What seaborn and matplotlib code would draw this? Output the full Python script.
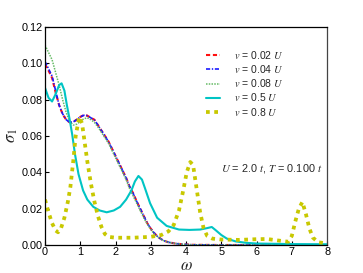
import numpy as np
import pandas as pd
import matplotlib
matplotlib.use("Agg")
import matplotlib.pyplot as plt
import seaborn as sns

# omega grids and sigma_1 values
w_002 = [0, 0.1, 0.2, 0.3, 0.4, 0.5, 0.6, 0.7, 0.8, 0.9, 1.0, 1.1, 1.2, 1.3, 1.4,
         1.5, 1.6, 1.7, 1.8, 1.9, 2.0, 2.1, 2.2, 2.3, 2.4, 2.5, 2.6, 2.7, 2.8, 2.9,
         3.0, 3.1, 3.2, 3.35, 3.5, 3.7, 3.9, 4.2, 5.0, 8.0]
s_002 = [0.0995, 0.096, 0.092, 0.084, 0.077, 0.072, 0.069, 0.0675, 0.0678, 0.069,
         0.0705, 0.0715, 0.0712, 0.070, 0.069, 0.066, 0.063, 0.060, 0.057, 0.053,
         0.049, 0.045, 0.041, 0.037, 0.032, 0.0285, 0.024, 0.020, 0.016, 0.012,
         0.009, 0.0065, 0.0045, 0.0025, 0.0015, 0.0008, 0.0004, 0.0001, 0.0, 0.0]

w_004 = [0, 0.1, 0.2, 0.3, 0.4, 0.5, 0.6, 0.7, 0.8, 0.9, 1.0, 1.1, 1.2, 1.3, 1.4,
         1.5, 1.6, 1.7, 1.8, 1.9, 2.0, 2.1, 2.2, 2.3, 2.4, 2.5, 2.6, 2.7, 2.8, 2.9,
         3.0, 3.1, 3.2, 3.35, 3.5, 3.7, 3.9, 4.2, 5.0, 8.0]
s_004 = [0.101, 0.097, 0.093, 0.085, 0.077, 0.0722, 0.069, 0.0675, 0.0677, 0.069,
         0.0705, 0.0714, 0.0712, 0.070, 0.0688, 0.066, 0.063, 0.060, 0.0568, 0.053,
         0.049, 0.045, 0.041, 0.0368, 0.032, 0.0283, 0.024, 0.020, 0.016, 0.012,
         0.009, 0.0065, 0.0045, 0.0025, 0.0015, 0.0008, 0.0004, 0.0001, 0.0, 0.0]

w_008 = [0, 0.1, 0.2, 0.3, 0.4, 0.5, 0.6, 0.7, 0.8, 0.9, 1.0, 1.1, 1.2, 1.3, 1.4,
         1.5, 1.6, 1.7, 1.8, 1.9, 2.0, 2.1, 2.2, 2.3, 2.4, 2.5, 2.6, 2.7, 2.8, 2.9,
         3.0, 3.1, 3.2, 3.35, 3.5, 3.7, 3.9, 4.2, 5.0, 8.0]
s_008 = [0.110, 0.106, 0.102, 0.095, 0.088, 0.080, 0.073, 0.068, 0.066, 0.0665,
         0.068, 0.0695, 0.070, 0.069, 0.0675, 0.065, 0.062, 0.059, 0.056, 0.052,
         0.048, 0.044, 0.040, 0.036, 0.031, 0.027, 0.023, 0.019, 0.015, 0.0115,
         0.0085, 0.006, 0.0043, 0.0025, 0.0015, 0.0008, 0.0004, 0.0001, 0.0, 0.0]

w_05 = [0, 0.1, 0.2, 0.3, 0.4, 0.47, 0.55, 0.62, 0.7, 0.77, 0.85, 0.95, 1.08, 1.2,
        1.37, 1.55, 1.75, 1.95, 2.13, 2.3, 2.45, 2.55, 2.65, 2.75, 2.84, 2.98, 3.18,
        3.45, 3.8, 4.1, 4.4, 4.6, 4.73, 4.85, 5.0, 5.16, 5.4, 5.7, 6.0, 7.0, 8.0]
s_05 = [0.0865, 0.081, 0.079, 0.083, 0.088, 0.089, 0.085, 0.077, 0.069, 0.061,
        0.050, 0.039, 0.030, 0.025, 0.021, 0.019, 0.018, 0.019, 0.021, 0.025,
        0.030, 0.035, 0.038, 0.036, 0.031, 0.023, 0.015, 0.0105, 0.0085, 0.0083,
        0.0085, 0.0093, 0.0099, 0.008, 0.0055, 0.0035, 0.002, 0.0012, 0.0008,
        0.0005, 0.0004]

w_08 = [0, 0.1, 0.2, 0.3, 0.37, 0.45, 0.55, 0.65, 0.72, 0.8, 0.87, 0.97, 1.05, 1.1,
        1.2, 1.3, 1.4, 1.5, 1.6, 1.7, 1.8, 2.0, 2.5, 3.0, 3.3, 3.5, 3.65, 3.8, 3.92,
        4.02, 4.12, 4.2, 4.3, 4.4, 4.5, 4.6, 4.75, 5.0, 5.5, 6.0, 6.3, 6.6, 6.9,
        7.0, 7.1, 7.2, 7.3, 7.4, 7.5, 7.6, 7.75, 8.0]
s_08 = [0.025, 0.018, 0.012, 0.008, 0.007, 0.009, 0.015, 0.024, 0.032, 0.046,
        0.060, 0.0705, 0.067, 0.060, 0.046, 0.034, 0.024, 0.016, 0.010, 0.006,
        0.0045, 0.004, 0.004, 0.0045, 0.0055, 0.0075, 0.011, 0.019, 0.030, 0.040,
        0.0457, 0.044, 0.031, 0.018, 0.009, 0.005, 0.0035, 0.003, 0.0028, 0.0032,
        0.0033, 0.0025, 0.0018, 0.005, 0.013, 0.020, 0.0237, 0.017, 0.009, 0.004,
        0.0015, 0.0008]

labels = [r"$v$ = 0.02 $U$", r"$v$ = 0.04 $U$", r"$v$ = 0.08 $U$",
          r"$v$ = 0.5 $U$", r"$v$ = 0.8 $U$"]

sns.set_style("ticks")
plt.rcParams["font.family"] = ["Liberation Sans", "DejaVu Sans"]
plt.rcParams["mathtext.fontset"] = "stix"

fig = plt.figure(figsize=(3.63, 2.73), dpi=100)
ax = fig.add_axes([0.124, 0.1026, 0.777, 0.7985])

series = [
    (w_002, s_002, dict(color="#ff1010", linestyle=(0, (2, 1.3)), lw=1.5)),
    (w_004, s_004, dict(color="#1a1aff", linestyle=(0, (2.5, 1, 0.8, 1)), lw=1.2)),
    (w_008, s_008, dict(color="#66bb66", linestyle=(0, (1, 0.8)), lw=1.1)),
    (w_05, s_05, dict(color="#00c4c4", linestyle="-", lw=1.5)),
    (w_08, s_08, dict(color="#c8c800", linestyle=(0, (1, 1.2)), lw=2.7)),
]
for (w, s, style), lab in zip(series, labels):
    df = pd.DataFrame({"omega": w, "sigma": s})
    sns.lineplot(data=df, x="omega", y="sigma", ax=ax, label=lab, **style)

ax.set_xlim(0, 8)
ax.set_ylim(0, 0.12)
ax.set_xticks(range(0, 9))
ax.set_yticks([0, 0.02, 0.04, 0.06, 0.08, 0.10, 0.12])
ax.set_yticklabels(["0.00", "0.02", "0.04", "0.06", "0.08", "0.10", "0.12"])
ax.tick_params(direction="in", length=3, width=0.8, labelsize=7.8, pad=1.5,
               colors="black", top=False, right=False)
for side in ["left", "bottom", "top"]:
    ax.spines[side].set_linewidth(0.9)
    ax.spines[side].set_color("black")
ax.spines["right"].set_linewidth(0.9)
ax.spines["right"].set_color("#444444")

ax.set_xlabel(r"$\omega$", fontsize=12, labelpad=1)
ax.set_ylabel(r"$\sigma_1$", fontsize=12, labelpad=1)

ax.legend(loc="upper left", bbox_to_anchor=(0.555, 0.92), frameon=False,
          fontsize=7.5, handlelength=1.4, handletextpad=1.3, labelspacing=0.22,
          borderaxespad=0)

ax.text(0.985, 0.35, r"$U$ = 2.0 $t$, $T$ = 0.100 $t$", transform=ax.transAxes,
        ha="right", va="center", fontsize=7.8)

fig.savefig("out.png", dpi=100)
